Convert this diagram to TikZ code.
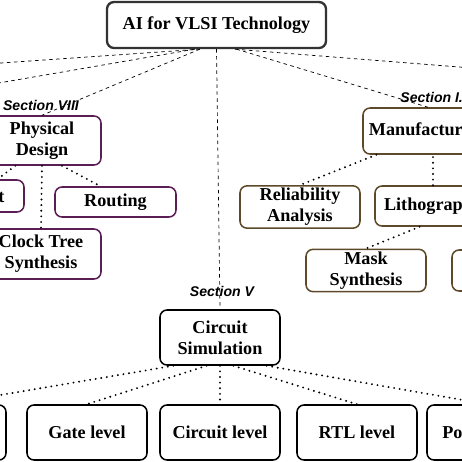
\documentclass[tikz,border=0pt]{standalone}
\usepackage{fontspec}
\setmainfont{Liberation Serif}
\newfontfamily\secfont{Liberation Sans}
\usepackage{xcolor}
\usepackage{tikz}
\definecolor{AIGray}{HTML}{333333}
\definecolor{AIPlum}{HTML}{5A1E55}
\definecolor{AIBrown}{HTML}{5E4A2A}

\begin{document}
\begin{tikzpicture}[x=0.03cm,y=-0.03cm,
  topic/.style={draw=AIGray,line width=2pt,rounded corners=6pt,fill=white,align=center,
    font=\fontsize{15.5}{18}\selectfont\bfseries,inner sep=2pt},
  leaf/.style={draw,line width=1.3pt,rounded corners=6pt,fill=white,align=center,
    font=\fontsize{15.5}{18}\selectfont\bfseries,inner sep=2pt},
  plumbox/.style={leaf,draw=AIPlum},
  brownbox/.style={leaf,draw=AIBrown},
  dashlink/.style={dashed,line width=.6pt},
  dotlink/.style={line width=1.8pt,line cap=round,dash pattern=on 0pt off 4.8pt},
  sec/.style={font=\secfont\fontsize{12}{14}\selectfont\bfseries\itshape,inner sep=1pt}]
\path[use as bounding box] (0,0) rectangle (462,462);
\clip (0,0) rectangle (462,462);
\fill[white] (0,0) rectangle (462,462);

% off-frame ends
\coordinate (farA) at (-100,70);
\coordinate (farB) at (-100,100);
\coordinate (farC) at (560,75);

\node[topic,minimum width=6.57cm,minimum height=1.38cm] (top) at (216.5,25) {AI for VLSI Technology};

\node[plumbox,minimum width=3.54cm,minimum height=1.47cm] (phys) at (42,140.5) {Physical\\Design};
\node[plumbox,minimum width=3.6cm,minimum height=0.96cm] (place) at (-36,196) {Placement};
\node[plumbox,minimum width=3.63cm,minimum height=0.9cm] (route) at (115.5,202) {Routing};
\node[plumbox,minimum width=3.6cm,minimum height=1.5cm] (cts) at (41,254) {Clock Tree\\Synthesis};

\node[brownbox,minimum width=3.9cm,minimum height=1.38cm] (manu) at (428,131) {Manufacturing};
\node[brownbox,minimum width=3.6cm,minimum height=1.2cm] (rel) at (300,207) {Reliability\\Analysis};
\node[brownbox,minimum width=3.48cm,minimum height=1.2cm] (litho) at (433,206) {Lithography};
\node[brownbox,minimum width=3.6cm,minimum height=1.23cm] (mask) at (366,270.5) {Mask\\Synthesis};
\node[brownbox,minimum width=3.6cm,minimum height=1.23cm] (opc) at (512,270.5) {};

\node[leaf,minimum width=3.6cm,minimum height=1.65cm] (csim) at (220,337.5) {Circuit\\Simulation};
\node[leaf,minimum width=3.6cm,minimum height=1.65cm] (dev) at (-54,432.5) {};
\node[leaf,minimum width=3.6cm,minimum height=1.65cm] (gate) at (87,432.5) {Gate level};
\node[leaf,minimum width=3.6cm,minimum height=1.65cm] (clev) at (220,432.5) {Circuit level};
\node[leaf,minimum width=3.6cm,minimum height=1.65cm] (rtl) at (357,432.5) {RTL level};
\node[leaf,minimum width=3.6cm,minimum height=1.65cm] (pow) at (487,432.5) {Power level};

% top level links
\draw[dashlink] ([xshift=-0.5cm]top.south) -- (farA);
\draw[dashlink] ([xshift=-0.65cm]top.south) -- (farB);
\draw[dashlink] ([xshift=-0.5cm]top.south) -- (phys.north);
\draw[dashlink] (top.south) -- (csim.north);
\draw[dashlink] ([xshift=0.55cm]top.south) -- (farC);
\draw[dashlink] ([xshift=0.6cm]top.south) -- (manu.north);

% physical design
\draw[dotlink] ([xshift=-0.8cm]phys.south) -- ([xshift=1cm]place.north);
\draw[dotlink] (phys.south) -- (cts.north);
\draw[dotlink] ([xshift=0.6cm]phys.south) -- ([xshift=-0.45cm]route.north);

% manufacturing
\draw[dotlink] ([xshift=-1.55cm]manu.south) -- (rel.north);
\draw[dotlink] (litho.north) -- (litho.north |- manu.south);
\draw[dotlink] ([xshift=-0.4cm]litho.south) -- (mask.north);

% circuit simulation
\draw[dotlink] ([xshift=-1.4cm]csim.south) -- (dev.north);
\draw[dotlink] ([xshift=-0.4cm]csim.south) -- (gate.north);
\draw[dotlink] (csim.south) -- (clev.north);
\draw[dotlink] ([xshift=0.4cm]csim.south) -- (rtl.north);
\draw[dotlink] ([xshift=1.4cm]csim.south) -- (pow.north);

\node[sec] (secviii) at (41,105) {Section VIII};
\node[sec,anchor=west] (seci) at (399,97) {Section I.};
\node[sec] (secv) at (222,291) {Section V};
\end{tikzpicture}
\end{document}
